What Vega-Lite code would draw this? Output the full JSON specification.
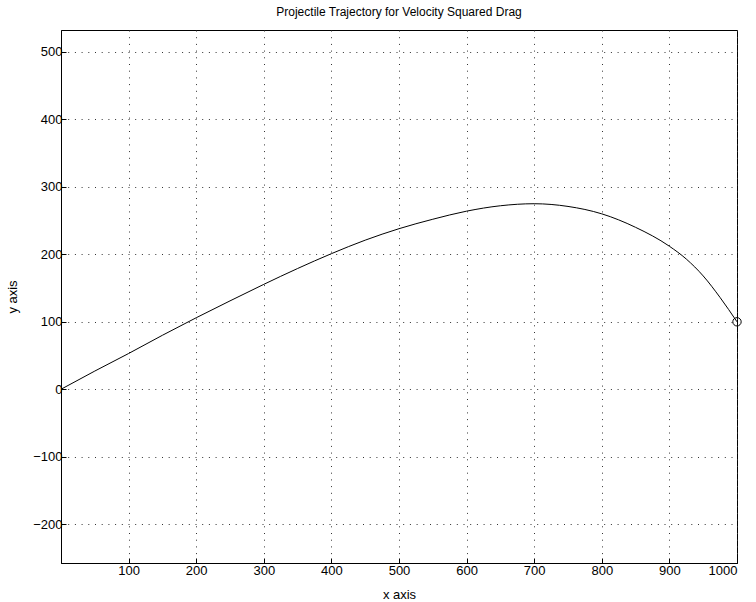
{
  "$schema": "https://vega.github.io/schema/vega-lite/v6.json",
  "autosize": "none",
  "width": 676,
  "height": 533,
  "padding": {"left": 61, "top": 30, "right": 19, "bottom": 39},
  "background": "white",
  "config": {
    "font": "Liberation Sans",
    "view": {"stroke": "#000", "strokeWidth": 1},
    "axis": {
      "domainColor": "#000",
      "domainWidth": 1,
      "tickColor": "#000",
      "tickSize": -5,
      "tickWidth": 1,
      "labelColor": "#000",
      "labelFontSize": 13,
      "labelFont": "Liberation Sans",
      "titleFont": "Liberation Sans",
      "titleFontSize": 13,
      "titleFontWeight": "normal",
      "titleColor": "#000",
      "gridColor": "#333",
      "gridDash": [1, 5.7],
      "gridWidth": 1,
      "gridOpacity": 1
    }
  },
  "title": {
    "text": "Projectile Trajectory for Velocity Squared Drag",
    "fontSize": 12,
    "fontWeight": "normal",
    "font": "Liberation Sans",
    "color": "#000",
    "offset": 11
  },
  "datasets": {
    "trajectory": [
      {"x": 0, "y": 0},
      {"x": 50, "y": 27},
      {"x": 100, "y": 53},
      {"x": 150, "y": 80},
      {"x": 200, "y": 106},
      {"x": 250, "y": 131},
      {"x": 300, "y": 155.5},
      {"x": 350, "y": 179},
      {"x": 400, "y": 201},
      {"x": 450, "y": 221},
      {"x": 500, "y": 238},
      {"x": 550, "y": 252},
      {"x": 600, "y": 264},
      {"x": 650, "y": 272},
      {"x": 700, "y": 275},
      {"x": 750, "y": 271},
      {"x": 800, "y": 260},
      {"x": 850, "y": 240},
      {"x": 900, "y": 212},
      {"x": 925, "y": 193},
      {"x": 950, "y": 168},
      {"x": 975, "y": 136},
      {"x": 1000, "y": 100}
    ],
    "endpoint": [
      {"x": 1000, "y": 100}
    ]
  },
  "layer": [
    {
      "data": {"name": "trajectory"},
      "mark": {"type": "line", "color": "#000", "strokeWidth": 1, "clip": true, "interpolate": "monotone"},
      "encoding": {
        "x": {
          "field": "x", "type": "quantitative",
          "scale": {"domain": [0, 1000], "nice": false, "zero": false},
          "axis": {"orient": "bottom", "title": "x axis", "format": "d", "values": [100, 200, 300, 400, 500, 600, 700, 800, 900, 1000], "labelPadding": 6, "titlePadding": 11, "grid": true}
        },
        "y": {
          "field": "y", "type": "quantitative",
          "scale": {"domain": [-257.5, 532.5], "nice": false, "zero": false},
          "axis": {"orient": "left", "title": "y axis", "format": "d", "values": [-200, -100, 0, 100, 200, 300, 400, 500], "labelPadding": 4, "titlePadding": 13, "grid": true}
        }
      }
    },
    {
      "data": {"name": "endpoint"},
      "mark": {"type": "point", "shape": "circle", "filled": false, "color": "#000", "strokeWidth": 1, "size": 70, "opacity": 1},
      "encoding": {
        "x": {"field": "x", "type": "quantitative"},
        "y": {"field": "y", "type": "quantitative"}
      }
    }
  ]
}
